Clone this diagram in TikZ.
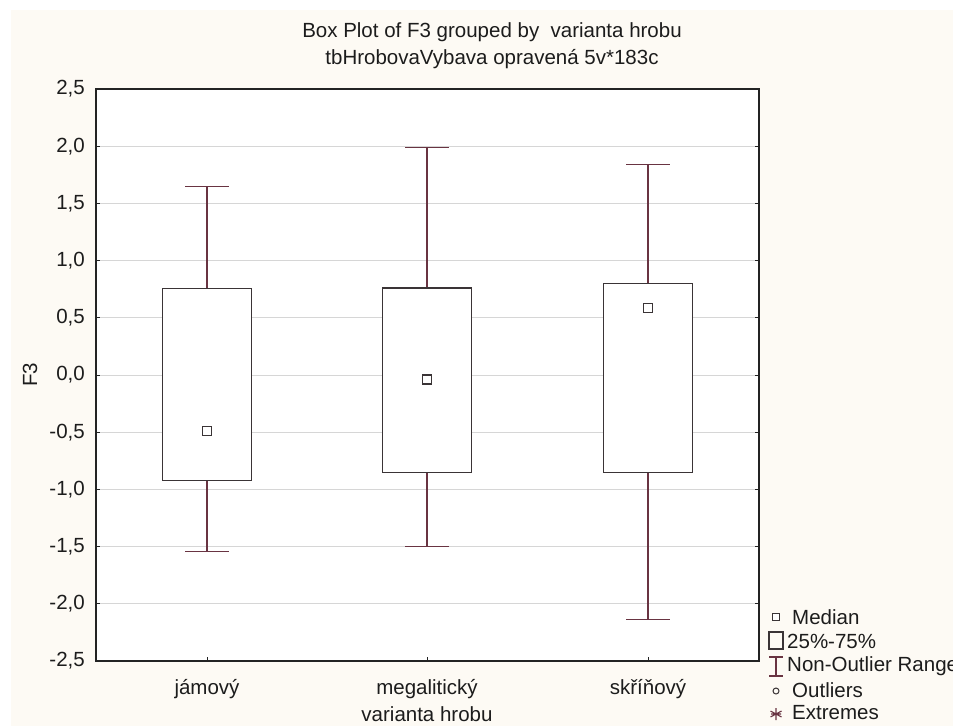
\documentclass[tikz,border=0pt]{standalone}
\usepackage{fontspec}
\setmainfont{Liberation Sans}

\definecolor{paper}{RGB}{253,250,244}
\definecolor{frameline}{RGB}{35,35,35}
\definecolor{gridgray}{RGB}{214,214,214}
\definecolor{whiskred}{RGB}{105,52,66}
\definecolor{boxgray}{RGB}{58,52,54}
\definecolor{txt}{RGB}{28,28,28}

\tikzset{
  lbl/.style={font=\fontsize{20.5}{23}\selectfont, text=txt, inner sep=0pt},
  gridln/.style={gridgray, line width=1pt},
  whisker/.style={whiskred, line width=1.3pt},
  iqrbox/.style={boxgray, line width=1.3pt, fill=white},
  medmark/.style={draw=boxgray, line width=1.2pt, fill=white, minimum size=9pt, inner sep=0pt},
}

\begin{document}
\begin{tikzpicture}[x=1pt,y=-1pt]
\useasboundingbox (0,0) rectangle (953,726);
\fill[white] (0,0) rectangle (953,726);
\fill[paper] (11,10) rectangle (953,726);

% titles
\node[lbl] (title) at (492,32) {Box Plot of F3 grouped by\ \ varianta hrobu};
\node[lbl] (subtitle) at (492,59) {tbHrobovaVybava opravená 5v*183c};

% plot area, x in pixels, y in data units
\begin{scope}[shift={(0,375)},yscale=-114.4]
\fill[white] (96,-2.5) rectangle (759,2.5);

\draw[gridln] (96,2.0) -- (759,2.0);
\draw[gridln] (96,1.5) -- (759,1.5);
\draw[gridln] (96,1.0) -- (759,1.0);
\draw[gridln] (96,0.5) -- (759,0.5);
\draw[gridln] (96,0.0) -- (759,0.0);
\draw[gridln] (96,-0.5) -- (759,-0.5);
\draw[gridln] (96,-1.0) -- (759,-1.0);
\draw[gridln] (96,-1.5) -- (759,-1.5);
\draw[gridln] (96,-2.0) -- (759,-2.0);

\draw[frameline, line width=1pt] (96,2.0) -- ++(4,0) (96,1.5) -- ++(4,0) (96,1.0) -- ++(4,0) (96,0.5) -- ++(4,0) (96,0.0) -- ++(4,0) (96,-0.5) -- ++(4,0) (96,-1.0) -- ++(4,0) (96,-1.5) -- ++(4,0) (96,-2.0) -- ++(4,0);
\draw[frameline, line width=1pt] (759,2.0) -- ++(-4,0) (759,1.5) -- ++(-4,0) (759,1.0) -- ++(-4,0) (759,0.5) -- ++(-4,0) (759,0.0) -- ++(-4,0) (759,-0.5) -- ++(-4,0) (759,-1.0) -- ++(-4,0) (759,-1.5) -- ++(-4,0) (759,-2.0) -- ++(-4,0);
\draw[frameline, line width=1pt] (207,-2.5) -- ++(0,0.035) (427,-2.5) -- ++(0,0.035) (648,-2.5) -- ++(0,0.035);

\node[lbl, anchor=east] (t25) at (85,2.5) {2,5};
\node[lbl, anchor=east] (t20) at (85,2.0) {2,0};
\node[lbl, anchor=east] (t15) at (85,1.5) {1,5};
\node[lbl, anchor=east] (t10) at (85,1.0) {1,0};
\node[lbl, anchor=east] (t05) at (85,0.5) {0,5};
\node[lbl, anchor=east] (t00) at (85,0.0) {0,0};
\node[lbl, anchor=east] (tm05) at (85,-0.5) {-0,5};
\node[lbl, anchor=east] (tm10) at (85,-1.0) {-1,0};
\node[lbl, anchor=east] (tm15) at (85,-1.5) {-1,5};
\node[lbl, anchor=east] (tm20) at (85,-2.0) {-2,0};
\node[lbl, anchor=east] (tm25) at (85,-2.5) {-2,5};

\node[lbl, rotate=90] (ylab) at (30,0) {F3};

% jámový
\draw[whisker] (207,0.755) -- (207,1.65) (185,1.65) -- (229,1.65);
\draw[whisker] (207,-0.92) -- (207,-1.54) (185,-1.54) -- (229,-1.54);
\draw[iqrbox] (162.5,-0.92) rectangle (251.5,0.755);
\node[medmark] (medJam) at (207,-0.49) {};

% megalitický
\draw[whisker] (427,0.76) -- (427,1.99) (405,1.99) -- (449,1.99);
\draw[whisker] (427,-0.85) -- (427,-1.50) (405,-1.50) -- (449,-1.50);
\draw[iqrbox] (382.5,-0.85) rectangle (471.5,0.76);
\node[medmark] (medMeg) at (427,-0.04) {};

% skříňový
\draw[whisker] (648,0.80) -- (648,1.84) (626,1.84) -- (670,1.84);
\draw[whisker] (648,-0.85) -- (648,-2.14) (626,-2.14) -- (670,-2.14);
\draw[iqrbox] (603.5,-0.85) rectangle (692.5,0.80);
\node[medmark] (medSkr) at (648,0.585) {};

\draw[frameline, line width=1.3pt] (96,-2.5) rectangle (759,2.5);
\end{scope}

% category labels
\node[lbl] (catJam) at (207,689) {jámový};
\node[lbl] (catMeg) at (427,689) {megalitický};
\node[lbl] (catSkr) at (648,689) {skříňový};
\node[lbl] (xlab) at (427,714) {varianta hrobu};

% legend
\node[medmark, minimum size=7.5pt, line width=1pt] (legMed) at (776,617) {};
\node[lbl, anchor=west] (legMedTxt) at (792,617) {Median};
\draw[boxgray, line width=1.1pt] (769,632) rectangle (783,649);
\node[lbl, anchor=west] (legBoxTxt) at (787,641) {25\%-75\%};
\draw[whisker, line width=1.1pt] (769,657) -- (783,657) (776,657) -- (776,676) (769,676) -- (783,676);
\node[lbl, anchor=west] (legRngTxt) at (787,666) {Non-Outlier Range};
\draw[boxgray, line width=1pt] (776,691) circle (3);
\node[lbl, anchor=west] (legOutTxt) at (792,690) {Outliers};
\draw[whisker, line width=1.1pt] (776,708) -- (776,720) (770.5,711) -- (781.5,717) (770.5,717) -- (781.5,711) (771,714) -- (781,714);
\node[lbl, anchor=west] (legExtTxt) at (792,713) {Extremes};

\end{tikzpicture}
\end{document}
